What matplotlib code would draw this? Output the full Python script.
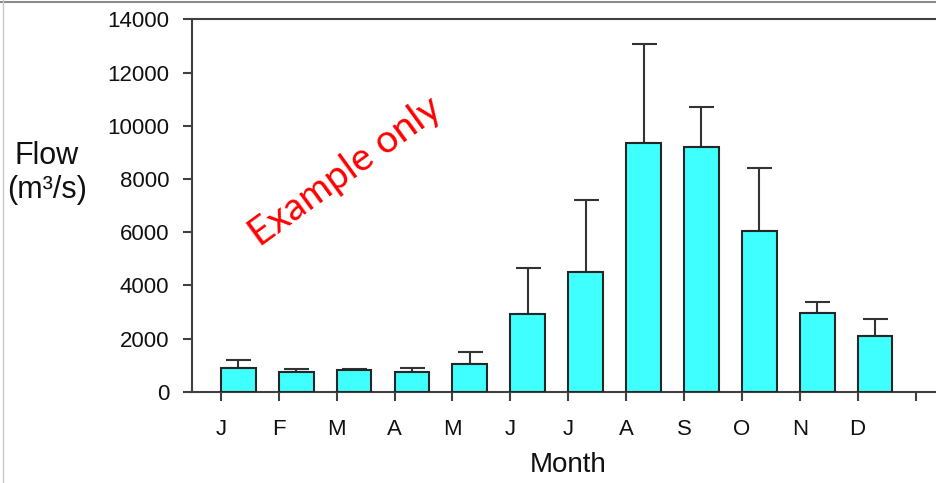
import matplotlib
matplotlib.use("Agg")
import matplotlib.pyplot as plt
from matplotlib.lines import Line2D
import numpy as np

months = ["J", "F", "M", "A", "M", "J", "J", "A", "S", "O", "N", "D"]
mean_flow = [900, 730, 810, 730, 1050, 2920, 4500, 9360, 9210, 6040, 2960, 2090]
upper_err = [300, 120, 40, 170, 430, 1720, 2710, 3720, 1480, 2390, 400, 630]
y_ticks = [0, 2000, 4000, 6000, 8000, 10000, 12000, 14000]

plt.rcParams['font.family'] = ['Liberation Sans', 'DejaVu Sans']

fig = plt.figure(figsize=(9.36, 4.83), dpi=100)
ax = fig.add_axes([192/936, 1 - 391.7/483, (944.5-192)/936, (391.7-19.5)/483])

x = np.arange(len(months))
edge = '#262626'
ax.bar(x, mean_flow, width=0.6, align='edge', color='#40FFFF',
       edgecolor=edge, linewidth=1.5, zorder=3)
ax.errorbar(x + 0.3, mean_flow, yerr=[np.zeros(len(months)), upper_err],
            fmt='none', ecolor='#333333', elinewidth=1.5, capsize=9,
            capthick=1.5, zorder=2)

ax.set_xlim(-0.5, 12.5)
ax.set_ylim(0, 14000)
ax.set_yticks(y_ticks)
ax.set_yticklabels([str(v) for v in y_ticks])
ax.set_xticks(np.arange(13))
ax.set_xticklabels(months + [""])

for s in ['left', 'bottom', 'top']:
    ax.spines[s].set_color('#404040')
    ax.spines[s].set_linewidth(1.5)
ax.spines['right'].set_visible(False)

ax.tick_params(axis='both', direction='out', length=6.5, width=1.5,
               color='#404040', labelsize=16, labelcolor='#111111')
ax.tick_params(axis='y', pad=10)
ax.tick_params(axis='x', pad=13)

ax.set_xlabel("Month", fontsize=20, color='#111111', labelpad=9)
ax.set_ylabel("Flow\n(m³/s)", rotation=0, fontsize=22, color='#111111',
              ha='center', va='center', linespacing=1.2)
ax.yaxis.set_label_coords(-0.1927, 0.588)

fig.text(345/936, 1 - 172/483, "Example only", color='#FF0000', fontsize=28,
         family=['Lato', 'DejaVu Sans'], rotation=36, ha='center', va='center',
         rotation_mode='anchor')

fig.add_artist(Line2D([0, 1], [1 - 1.5/483, 1 - 1.5/483], color='#8c8c8c',
                      linewidth=1.5, transform=fig.transFigure))
fig.add_artist(Line2D([3/936, 3/936], [0, 1], color='#c8c8c8',
                      linewidth=1.0, transform=fig.transFigure))

fig.savefig("out.png", dpi=100)
